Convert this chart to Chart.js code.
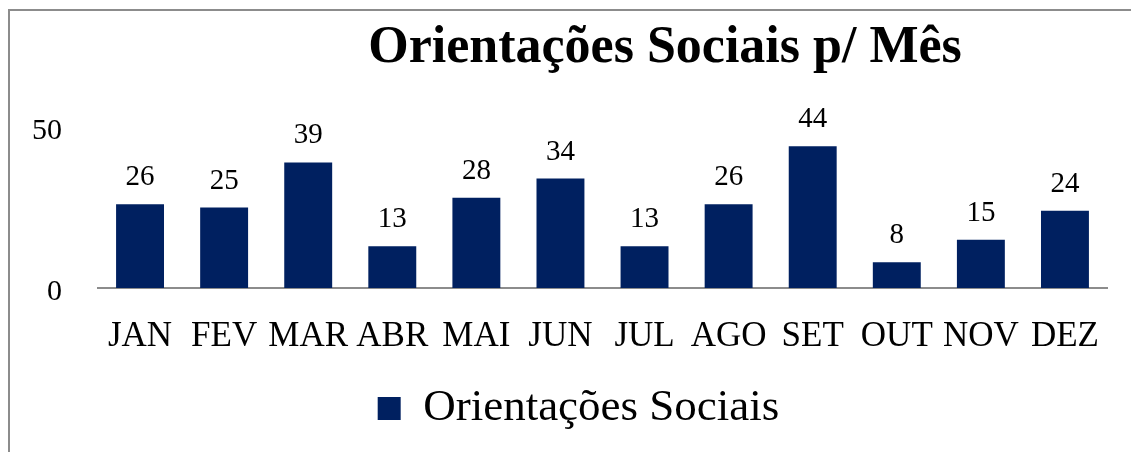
<!DOCTYPE html>
<html>
<head>
<meta charset="utf-8">
<script src="https://cdn.jsdelivr.net/npm/chart.js@4.4.1/dist/chart.umd.min.js"></script>
<style>
  html, body { margin: 0; padding: 0; background: #fff; }
  #wrap { position: relative; width: 1131px; height: 452px; overflow: hidden; }
  #frame { position: absolute; left: 8px; top: 9px; right: -10px; bottom: -10px;
           border-top: 2px solid #8c8c8c; border-left: 2px solid #8c8c8c; }
  #chart { position: absolute; left: 0; top: 0; }
</style>
</head>
<body>
<div id="wrap">
  <div id="frame"></div>
  <canvas id="chart" width="1131" height="452"></canvas>
</div>
<script>
const chartTitle = 'Orientações Sociais p/ Mês';
const seriesName = 'Orientações Sociais';
const months = ['JAN', 'FEV', 'MAR', 'ABR', 'MAI', 'JUN', 'JUL', 'AGO', 'SET', 'OUT', 'NOV', 'DEZ'];
const values = [26, 25, 39, 13, 28, 34, 13, 26, 44, 8, 15, 24];
const yTicks = [0, 50];

const SERIF = '"Liberation Serif", "DejaVu Serif", serif';
const BAR_COLOR = '#002060';

// value labels above each bar
const barLabels = {
  id: 'barLabels',
  afterDatasetsDraw(chart) {
    const ctx = chart.ctx;
    const meta = chart.getDatasetMeta(0);
    ctx.save();
    ctx.font = '29px ' + SERIF;
    ctx.fillStyle = '#000';
    ctx.textAlign = 'center';
    ctx.textBaseline = 'alphabetic';
    meta.data.forEach((bar, i) => {
      ctx.fillText(String(chart.data.datasets[0].data[i]), bar.x, bar.y - 19);
    });
    ctx.restore();
  }
};

// title sits right of centre in the original, so draw it ourselves
const offsetTitle = {
  id: 'offsetTitle',
  afterDraw(chart) {
    const ctx = chart.ctx;
    ctx.save();
    ctx.font = 'bold 52px ' + SERIF;
    ctx.fillStyle = '#000';
    ctx.textAlign = 'center';
    ctx.textBaseline = 'alphabetic';
    ctx.fillText(chartTitle, 665, 62);
    ctx.restore();
  }
};

// legend is a little right of the canvas centre in the original
const nudgeLegend = {
  id: 'nudgeLegend',
  afterLayout(chart) {
    if (chart.legend) {
      chart.legend.left += 25;
      chart.legend.right += 25;
    }
  }
};

new Chart(document.getElementById('chart'), {
  type: 'bar',
  data: {
    labels: months,
    datasets: [{
      label: seriesName,
      data: values,
      backgroundColor: BAR_COLOR,
      borderWidth: 0,
      categoryPercentage: 1,
      barPercentage: 0.57
    }]
  },
  options: {
    responsive: false,
    animation: false,
    layout: { padding: { left: 0, right: 24, top: 127, bottom: 11 } },
    plugins: {
      title: { display: false },
      tooltip: { enabled: false },
      legend: {
        position: 'bottom',
        labels: {
          color: '#000',
          font: { family: SERIF, size: 45 },
          boxWidth: 23,
          boxHeight: 23,
          padding: 10
        }
      }
    },
    scales: {
      x: {
        grid: { display: false },
        border: { display: true, color: '#8c8c8c', width: 2 },
        ticks: {
          color: '#000',
          font: { family: SERIF, size: 35 },
          autoSkip: false,
          maxRotation: 0,
          minRotation: 0,
          padding: 20
        },
        afterFit(scale) { scale.height = 88; }
      },
      y: {
        min: 0,
        max: 50,
        grid: { display: false },
        border: { display: false },
        afterBuildTicks(scale) { scale.ticks = yTicks.map(v => ({ value: v })); },
        ticks: {
          color: '#000',
          font: { family: SERIF, size: 30 },
          padding: 28,
          labelOffset: 4
        },
        afterFit(scale) { scale.width = 98; }
      }
    }
  },
  plugins: [barLabels, offsetTitle, nudgeLegend]
});
</script>
</body>
</html>
